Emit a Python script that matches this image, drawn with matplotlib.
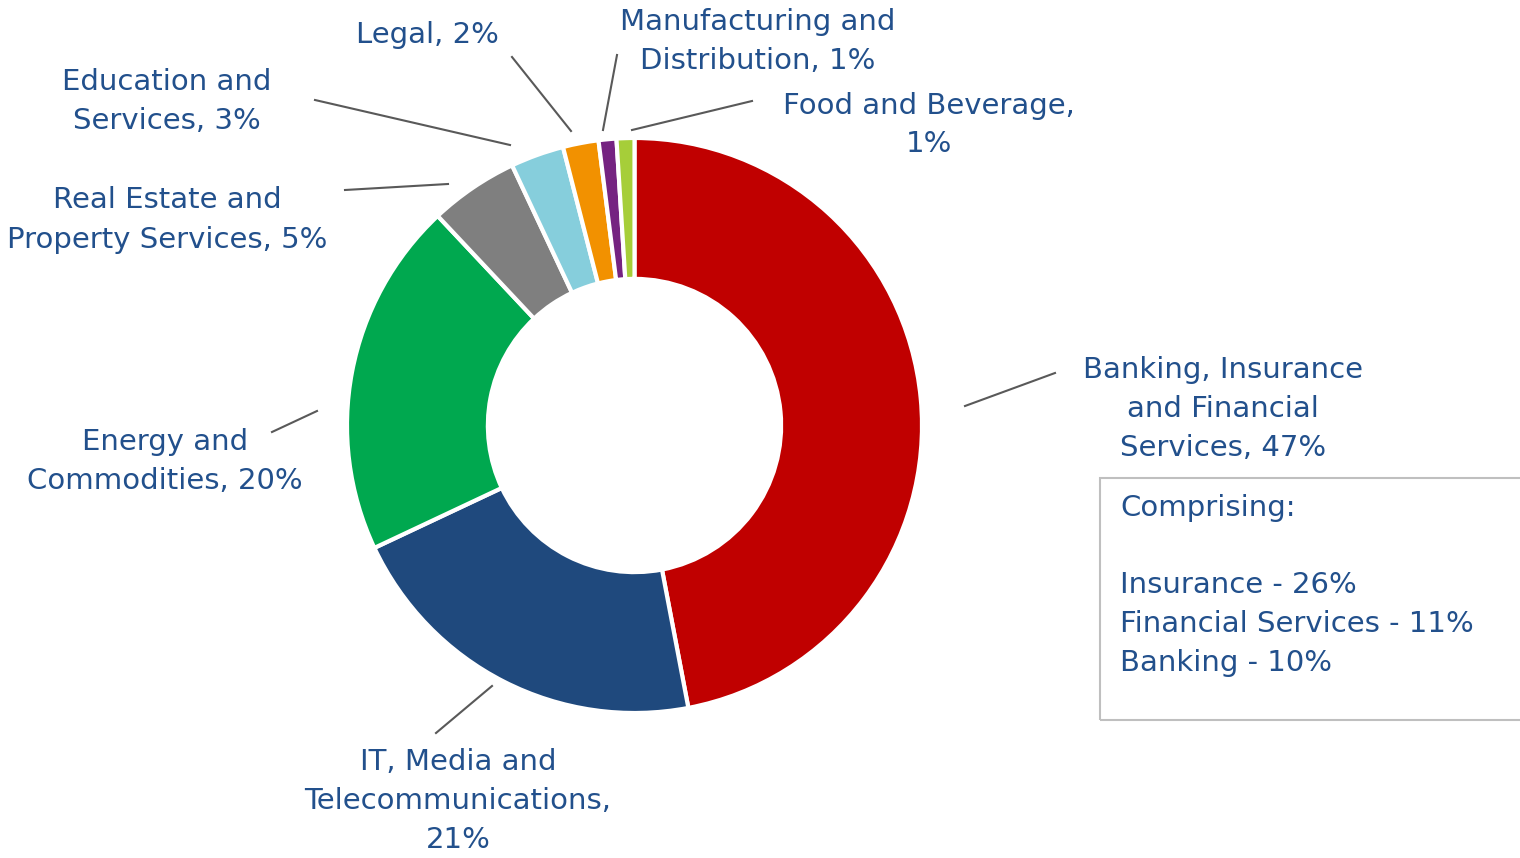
import numpy as np
import matplotlib.pyplot as plt
from matplotlib.patches import Rectangle

# данные по секторам
sectors = ['Banking, Insurance\nand Financial\nServices', 'IT, Media and\nTelecommunications,\n',
           'Energy and\nCommodities', 'Real Estate and\nProperty Services', 'Education and\nServices',
           'Legal', 'Manufacturing and\nDistribution', 'Food and Beverage,\n']
shares = [47, 21, 20, 5, 3, 2, 1, 1]
colors = ['#C00000', '#1F497D', '#00A84F', '#7F7F7F', '#86CEDC', '#F29100', '#752381', '#A6CE39']

box_title = 'Comprising:'
box_items = ['Insurance - 26%', 'Financial Services - 11%', 'Banking - 10%']

txt_color = '#22508C'
H = 858
cx, cy, R = 634.5, H - 425.5, 287.5

# положение подписей (в пикселях картинки) и выносные линии
label_xy = [(1223, 409), (458, 801), (165, 462), (167, 220), (167, 102), (427, 35), (758, 41), (929, 125)]
line_start = [(965, 406), (492, 686), (317, 411), (448, 184), (510, 145), (571, 131), (603, 130), (632, 130)]
line_end = [(1055, 373), (436, 733), (272, 432), (345, 190), (315, 100), (512, 57), (617, 55), (752, 101)]

fig = plt.figure(figsize=(15.2, 8.58), dpi=100)
ax = fig.add_axes([0, 0, 1, 1])

wedges, _ = ax.pie(shares, colors=colors, startangle=90, counterclock=False,
                   center=(cx, cy), radius=R,
                   wedgeprops=dict(width=R * 0.49, edgecolor='white', linewidth=3))
ax.set_xlim(0, 1520)
ax.set_ylim(0, H)
ax.set_aspect('equal')
ax.axis('off')

for i in range(len(shares)):
    x0, y0 = line_start[i]
    x1, y1 = line_end[i]
    ax.plot([x0, x1], [H - y0, H - y1], color='#595959', lw=1.5)
    name = sectors[i]
    if name.endswith('\n'):
        label = name + f'{shares[i]}%'
    else:
        label = name + f', {shares[i]}%'
    lx, ly = label_xy[i]
    ax.text(lx, H - ly, label, ha='center', va='center', fontsize=21,
            color=txt_color, linespacing=1.5)

ax.add_patch(Rectangle((1100, H - 720), 440, 242, fill=False, edgecolor='#BFBFBF', lw=1.5))
ax.text(1120, H - 508, box_title, ha='left', va='center', fontsize=21, color=txt_color)
for k, item in enumerate(box_items):
    ax.text(1120, H - (585 + 39 * k), item, ha='left', va='center', fontsize=21, color=txt_color)

plt.savefig('out.png', dpi=100)
